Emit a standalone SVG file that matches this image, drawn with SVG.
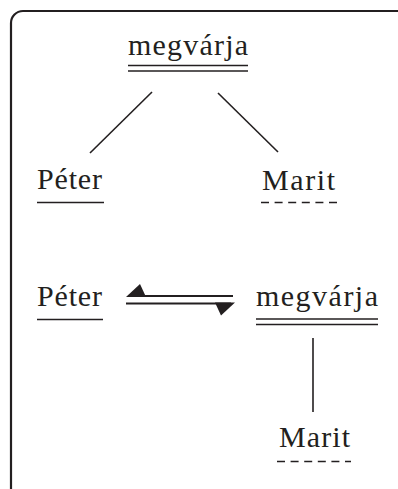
<svg xmlns="http://www.w3.org/2000/svg" width="398" height="489" viewBox="0 0 398 489">
<style>
.t{font-family:"Liberation Serif","DejaVu Serif",serif;font-size:30px;fill:#231f20}
.l{stroke:#231f20;stroke-width:1.6;fill:none}
.d{stroke:#231f20;stroke-width:1.6;fill:none;stroke-dasharray:8 5.6}
</style>
<rect x="11" y="11" width="400" height="490" rx="12" ry="12" fill="none" stroke="#231f20" stroke-width="2.2"/>
<g id="n1">
<text class="t" x="128" y="55" textLength="120" lengthAdjust="spacing">megvárja</text>
<line class="l" x1="128" y1="65.5" x2="248" y2="65.5"/>
<line class="l" x1="128" y1="71" x2="248" y2="71"/>
</g>
<g id="n2">
<text class="t" x="37" y="189" textLength="65" lengthAdjust="spacing">Péter</text>
<line class="l" x1="37" y1="202.5" x2="104" y2="202.5"/>
</g>
<g id="n3">
<text class="t" x="262" y="190" textLength="73" lengthAdjust="spacing">Marit</text>
<line class="d" x1="261" y1="202.5" x2="337" y2="202.5"/>
</g>
<g id="n4">
<text class="t" x="37" y="306" textLength="65" lengthAdjust="spacing">Péter</text>
<line class="l" x1="37" y1="319.5" x2="103" y2="319.5"/>
</g>
<g id="n5">
<text class="t" x="256" y="306" textLength="122" lengthAdjust="spacing">megvárja</text>
<line class="l" x1="256" y1="319" x2="378" y2="319"/>
<line class="l" x1="256" y1="324.5" x2="378" y2="324.5"/>
</g>
<g id="n6">
<text class="t" x="279" y="447" textLength="71" lengthAdjust="spacing">Marit</text>
<line class="d" x1="277" y1="461.5" x2="351" y2="461.5"/>
</g>
<g id="connectors">
<line class="l" x1="152" y1="92" x2="90" y2="153"/>
<line class="l" x1="218" y1="93" x2="278" y2="152"/>
<line class="l" x1="313" y1="338" x2="313" y2="412"/>
<line stroke="#231f20" stroke-width="2" x1="128" y1="296" x2="233" y2="296"/>
<polygon fill="#231f20" points="126,297 140,284 146,297"/>
<line stroke="#231f20" stroke-width="2" x1="126" y1="303.5" x2="231" y2="303.5"/>
<polygon fill="#231f20" points="235,302.5 221,315.5 215,302.5"/>
</g>
</svg>
